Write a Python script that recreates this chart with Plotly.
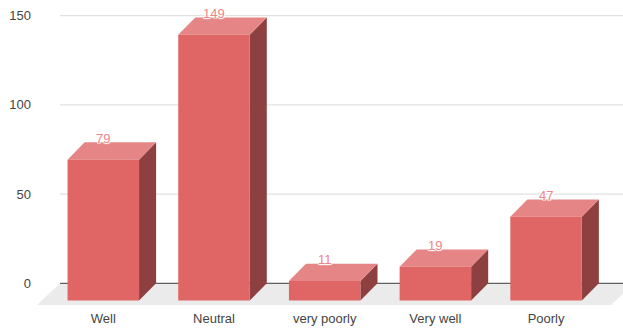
import plotly.graph_objects as go

categories = ["Well", "Neutral", "very poorly", "Very well", "Poorly"]
values = [79, 149, 11, 19, 47]
y_ticks = [0, 50, 100, 150]

# styling / geometry constants (in axis units)
HW = 0.323        # half width of bar front face (category units)
DX = 0.154        # 3D depth offset, x (category units)
DY = 9.7          # 3D depth offset, y (value units)
FLOOR_DX = 0.208
FLOOR_DY = 12.16
X_LEFT_BACK = -0.391
X_RANGE = [-0.608, 4.695]
Y_RANGE = [-12.16, 158.8]

FRONT = "#E06666"
TOP = "#E58585"
SIDE = "#8E4040"

fig = go.Figure()

# floor
fx_right = X_RANGE[1] + 0.1
fig.add_trace(go.Scatter(
    x=[X_LEFT_BACK, fx_right, fx_right - FLOOR_DX, X_LEFT_BACK - FLOOR_DX, X_LEFT_BACK],
    y=[0, 0, -FLOOR_DY, -FLOOR_DY, 0],
    fill="toself", fillcolor="#EBEBEB", mode="lines", line=dict(width=0),
    hoverinfo="skip", showlegend=False))

# gridlines
for t in y_ticks:
    fig.add_trace(go.Scatter(
        x=[X_LEFT_BACK, X_RANGE[1]], y=[t, t], mode="lines",
        line=dict(color="#5F5F5F" if t == 0 else "#DADADA", width=1.3 if t == 0 else 1),
        hoverinfo="skip", showlegend=False))

# bars
for i, v in enumerate(values):
    x0, x1 = i - HW, i + HW
    # side face
    fig.add_trace(go.Scatter(
        x=[x1, x1 + DX, x1 + DX, x1, x1], y=[-DY, 0, v, v - DY, -DY],
        fill="toself", fillcolor=SIDE, mode="lines", line=dict(width=0),
        hoverinfo="skip", showlegend=False))
    # top face
    fig.add_trace(go.Scatter(
        x=[x0, x1, x1 + DX, x0 + DX, x0], y=[v - DY, v - DY, v, v, v - DY],
        fill="toself", fillcolor=TOP, mode="lines", line=dict(width=0),
        hoverinfo="skip", showlegend=False))
    # front face
    fig.add_trace(go.Scatter(
        x=[x0, x1, x1, x0, x0], y=[-DY, -DY, v - DY, v - DY, -DY],
        fill="toself", fillcolor=FRONT, mode="lines", line=dict(width=0),
        hoverinfo="text", text=f"{categories[i]}: {v}", showlegend=False))

# value labels
for i, v in enumerate(values):
    fig.add_annotation(
        x=i, y=v, text=str(v), showarrow=False, yshift=4,
        font=dict(family="Arial, Liberation Sans, sans-serif", size=13, color="#F08585",
                  shadow="1px 1px 1px white, -1px -1px 1px white, 1px -1px 1px white, -1px 1px 1px white"))

fig.update_layout(
    width=623, height=329,
    margin=dict(l=36, r=0, t=0, b=24),
    paper_bgcolor="white", plot_bgcolor="white",
    font=dict(family="Arial, Liberation Sans, sans-serif", size=13, color="#444444"),
    xaxis=dict(range=X_RANGE, tickvals=list(range(len(categories))), ticktext=categories,
               showgrid=False, zeroline=False, showline=False, ticks="",
               ticklabelstandoff=4, fixedrange=True),
    yaxis=dict(range=Y_RANGE, tickvals=y_ticks, showgrid=False, zeroline=False,
               showline=False, ticks="", ticklabelstandoff=4, fixedrange=True),
)

fig.write_html("out.html")
